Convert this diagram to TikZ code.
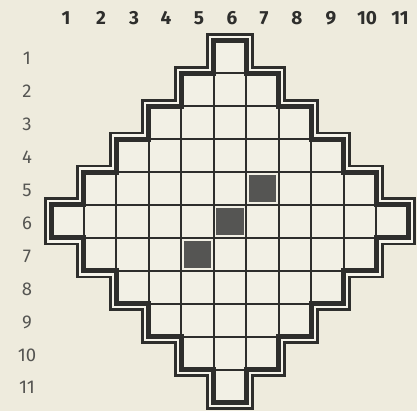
\documentclass[tikz,border=0pt]{standalone}
\usepackage{fontspec}
\setmainfont{Fira Sans}
\definecolor{paper}{HTML}{EEEBDD}
\definecolor{cellc}{HTML}{F2F0E5}
\definecolor{gapc}{HTML}{F6F4EB}
\definecolor{ink}{HTML}{2E2E2C}
\definecolor{shadec}{HTML}{555553}
\definecolor{rowlab}{HTML}{555552}
\newcommand\boardpath[1]{\path[#1] (5,0) -- (6,0) -- (6,1) -- (7,1) -- (7,2) -- (8,2) -- (8,3) -- (9,3) -- (9,4) -- (10,4) -- (10,5) -- (11,5) -- (11,6) -- (10,6) -- (10,7) -- (9,7) -- (9,8) -- (8,8) -- (8,9) -- (7,9) -- (7,10) -- (6,10) -- (6,11) -- (5,11) -- (5,10) -- (4,10) -- (4,9) -- (3,9) -- (3,8) -- (2,8) -- (2,7) -- (1,7) -- (1,6) -- (0,6) -- (0,5) -- (1,5) -- (1,4) -- (2,4) -- (2,3) -- (3,3) -- (3,2) -- (4,2) -- (4,1) -- (5,1) -- cycle;}
\tikzset{
  gridline/.style={draw=ink, line width=2pt},
  collab/.style={font=\fontsize{19}{19}\selectfont\bfseries, text=ink, inner sep=0pt},
  rowlabel/.style={font=\fontsize{18.5}{18.5}\selectfont, text=rowlab, inner sep=0pt},
  darkcell/.style={fill=shadec}
}
\begin{document}
\begin{tikzpicture}[x=1pt,y=-1pt]
\useasboundingbox (0,0) rectangle (417,411);
\fill[paper] (0,0) rectangle (417,411);
% column labels
\foreach \c/\xx in {1/66,2/101,3/134,4/166,5/199,6/232,7/264,8/297,9/331,10/367,11/400}{
  \node[collab] (c\c) at (\xx,18) {\c};
}
% row labels
\foreach \r/\yy in {1/58,2/91,3/124,4/157,5/190,6/223,7/256,8/289,9/322,10/355,11/387}{
  \node[rowlabel] (r\r) at (27,\yy) {\r};
}
\begin{scope}[shift={(51.5pt,-40.5pt)}, x=32.45pt, y=-32.9pt]
  \boardpath{draw=ink, line width=15pt, line join=miter}
  \boardpath{draw=gapc, line width=9.5pt, line join=miter}
  \boardpath{fill=cellc}
  \begin{scope}
    \boardpath{clip}
    \foreach \i in {1,...,10}{
      \draw[gridline] (\i,0) -- (\i,11);
      \draw[gridline] (0,\i) -- (11,\i);
    }
  \end{scope}
  \boardpath{draw=ink, line width=5pt, line join=miter}
  \fill[darkcell] (6.08,4.08) rectangle (6.92,4.92);
  \fill[darkcell] (5.08,5.08) rectangle (5.92,5.92);
  \fill[darkcell] (4.08,6.08) rectangle (4.92,6.92);
\end{scope}
\end{tikzpicture}
\end{document}
